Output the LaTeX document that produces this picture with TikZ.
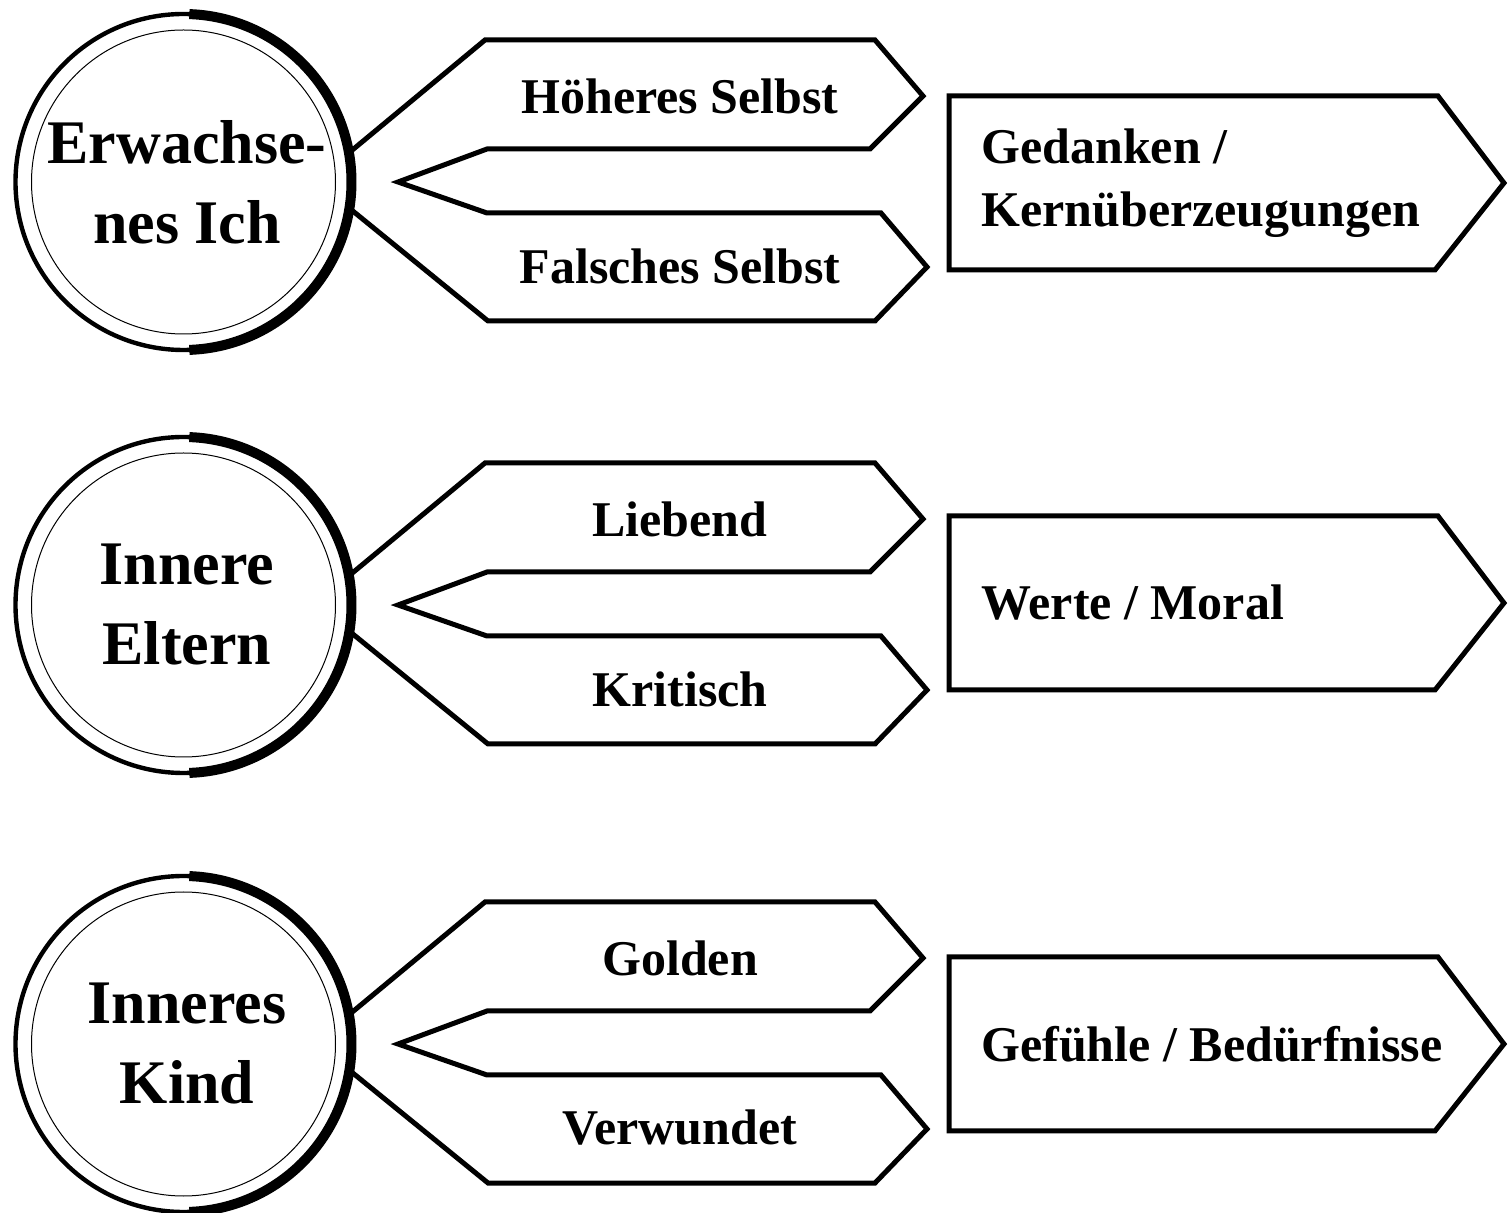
\documentclass[tikz,border=0pt]{standalone}
\usepackage{fontspec}
\setmainfont{Liberation Serif}
\tikzset{
  shapeline/.style={line width=2.5pt, line join=miter},
  lbl/.style={font=\fontsize{25}{31.5}\selectfont\bfseries, inner sep=0pt},
  ctext/.style={font=\fontsize{31}{40}\selectfont\bfseries, align=center, inner sep=0pt},
  ring/.style={circle, draw, line width=2.2pt, minimum size=168pt, inner sep=0pt, outer sep=0pt},
}
\newcommand\drawrow[7]{%
  \begin{scope}[yshift=-#2*0.5pt]
    \node[ring] (c#1) at (183.5,182) {};
    \draw[line width=5pt] (c#1.88) arc[start angle=88, end angle=-88, radius=84pt];
    \draw[line width=0.5pt] (c#1) circle[radius=76pt];
    \node[ctext] (t#1) at (187,182) {#3};
    \coordinate (ul#1) at (485,40);
    \coordinate (ll#1) at (488,321);
    \draw[shapeline] (c#1.10) -- (ul#1) -- (875,40) -- (923,96) -- (870,149) -- (487,149)
      -- (398,182) -- (487,213) -- (881,213) -- (927,267) -- (875,321) -- (ll#1) -- (c#1.-9);
    \node[lbl] (u#1) at (680,96) {#4};
    \node[lbl] (l#1) at (680,266) {#5};
    \begin{scope}[yshift=-#7*0.5pt]
      \draw[shapeline] (949,96) -- (1438,96) -- (1504,183) -- (1435,270) -- (949,270) -- cycle;
      \node[lbl, anchor=west, align=left] (b#1) at (981,183) {#6};
    \end{scope}
  \end{scope}}
\begin{document}
\begin{tikzpicture}[x=0.5pt,y=-0.5pt]
  \useasboundingbox (0,0) rectangle (1512,1213);
  \drawrow{a}{0}{Erwachse-\\nes Ich}{Höheres Selbst}{Falsches Selbst}{Gedanken /\\Kernüberzeugungen}{0}
  \drawrow{b}{423}{Innere\\Eltern}{Liebend}{Kritisch}{Werte / Moral}{-3}
  \drawrow{c}{862}{Inneres\\Kind}{Golden}{Verwundet}{Gefühle / Bedürfnisse}{-1}
\end{tikzpicture}
\end{document}
